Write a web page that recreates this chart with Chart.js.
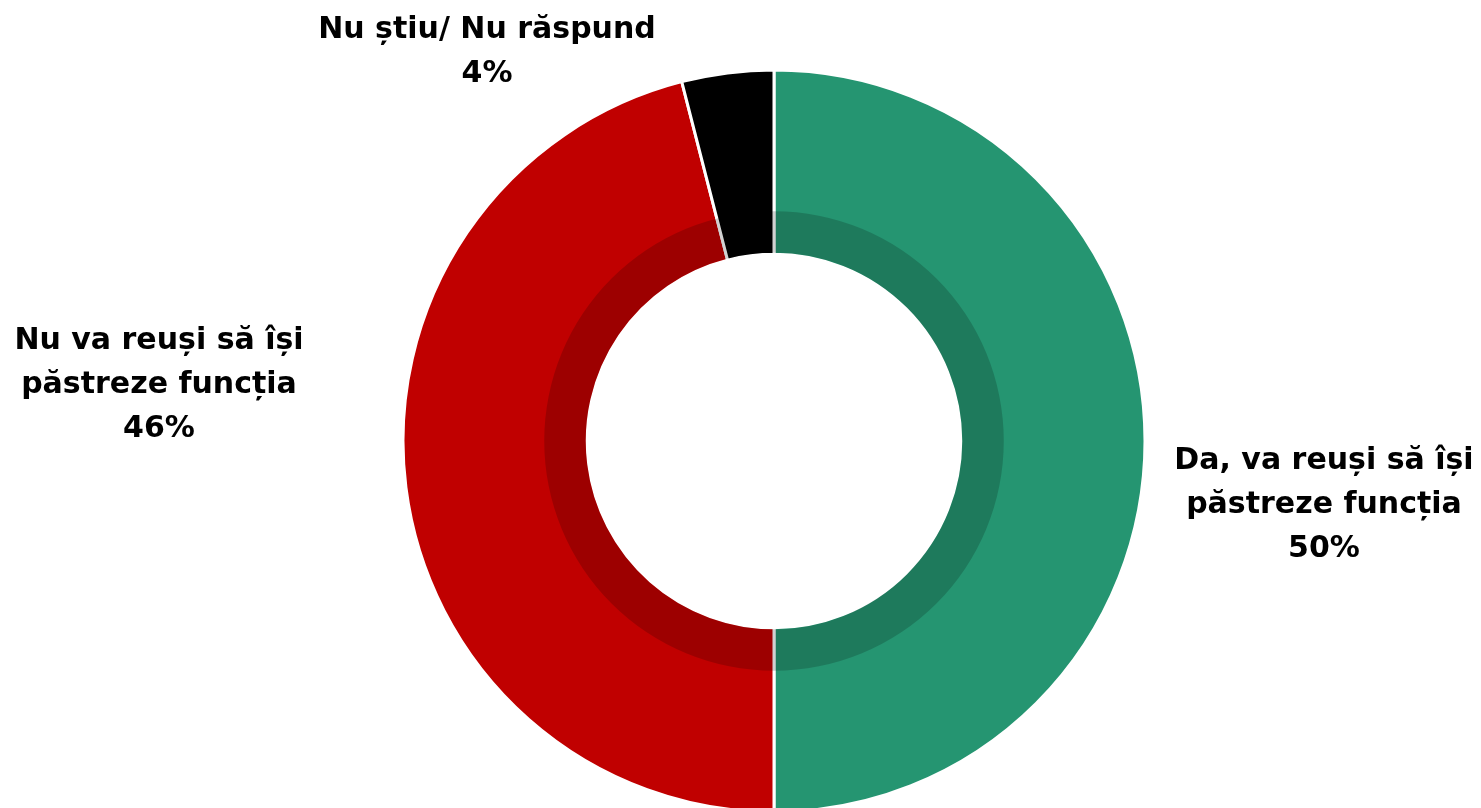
<!DOCTYPE html>
<html>
<head>
<meta charset="utf-8">
<script src="https://cdn.jsdelivr.net/npm/chart.js@4"></script>
<style>
  html, body { margin: 0; padding: 0; background: #fff; overflow: hidden; }
  #wrap { width: 1481px; height: 808px; position: relative; }
</style>
</head>
<body>
<div id="wrap"><canvas id="donut"></canvas></div>
<script>
// answer categories (label lines) and shares in %
const categories = [
  ['Da, va reuși să își', 'păstreze funcția'],
  ['Nu va reuși să își', 'păstreze funcția'],
  ['Nu știu/ Nu răspund']
];
const shares = [50, 46, 4];
const colors = ['#259571', '#C00000', '#000000'];

// darker band on the inner part of the ring (shadow look)
const innerShade = {
  id: 'innerShade',
  afterDatasetsDraw(chart, args, opts) {
    const meta = chart.getDatasetMeta(0);
    if (!meta.data.length) return;
    const arc = meta.data[0];
    const ctx = chart.ctx;
    const r0 = arc.innerRadius + 1.5; // skip the white edge stroke
    const r1 = arc.innerRadius + opts.width;
    ctx.save();
    ctx.beginPath();
    ctx.arc(arc.x, arc.y, r1, 0, Math.PI * 2);
    ctx.arc(arc.x, arc.y, r0, 0, Math.PI * 2, true);
    ctx.closePath();
    ctx.fillStyle = opts.color;
    ctx.fill();
    ctx.restore();
  }
};

// outside labels, name lines + percentage
const outLabels = {
  id: 'outLabels',
  afterDraw(chart, args, opts) {
    const meta = chart.getDatasetMeta(0);
    const ctx = chart.ctx;
    ctx.save();
    ctx.font = opts.font;
    ctx.fillStyle = '#000';
    ctx.textAlign = 'center';
    ctx.textBaseline = 'middle';
    meta.data.forEach((arc, i) => {
      const lines = categories[i].concat([shares[i] + '%']);
      const off = opts.offsets[i];
      const cx = arc.x + off[0];
      const cy = arc.y + off[1];
      const top = cy - (lines.length - 1) * opts.lineHeight / 2;
      lines.forEach((t, j) => ctx.fillText(t, cx, top + j * opts.lineHeight));
    });
    ctx.restore();
  }
};

new Chart(document.getElementById('donut'), {
  type: 'doughnut',
  data: {
    labels: categories.map(c => c.join(' ')),
    datasets: [{
      data: shares,
      backgroundColor: colors,
      borderColor: '#ffffff',
      borderWidth: 3,
      clip: false
    }]
  },
  options: {
    responsive: true,
    maintainAspectRatio: false,
    animation: false,
    radius: 371,
    cutout: 184,
    layout: { padding: { left: 67, top: 74, right: 0, bottom: 0 } },
    plugins: {
      legend: { display: false },
      tooltip: { enabled: false },
      innerShade: { width: 43, color: 'rgba(0,0,0,0.18)' },
      outLabels: {
        font: 'bold 30px "DejaVu Sans"',
        lineHeight: 44,
        offsets: [[550, 64], [-615, -56], [-287, -389]]
      }
    }
  },
  plugins: [innerShade, outLabels]
});
</script>
</body>
</html>
